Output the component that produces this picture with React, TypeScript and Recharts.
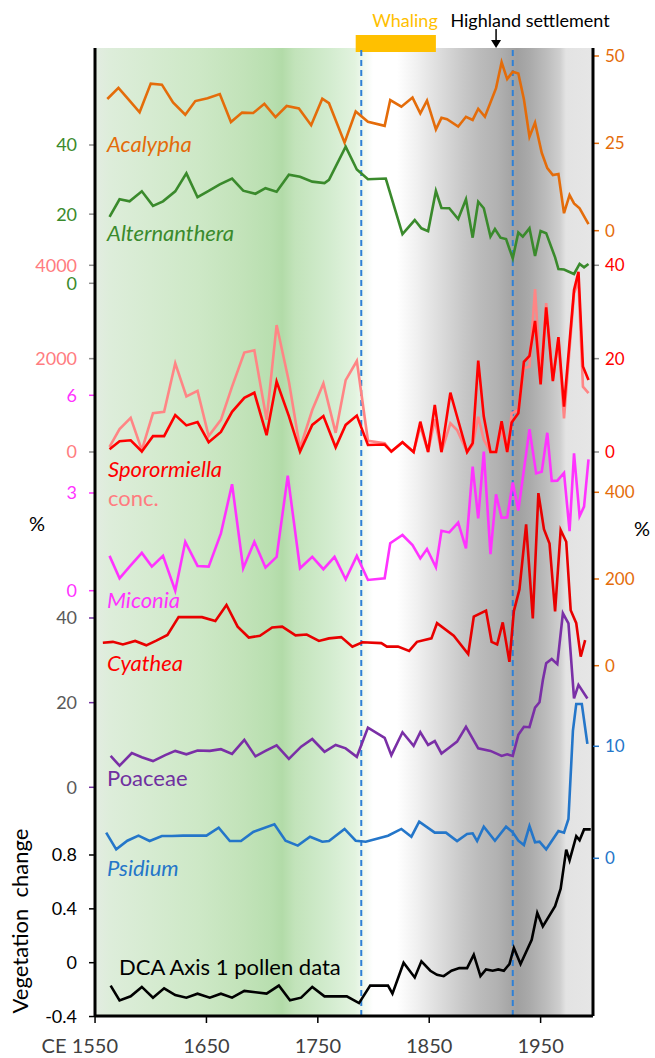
import React from 'react';
import { ComposedChart, Line, XAxis, YAxis, ReferenceArea, ReferenceLine } from 'recharts';

// ---------------- data ----------------
const yearTicks = [1550, 1650, 1750, 1850, 1950];

const acalyphaYears = [1561,1571,1580,1590,1600,1610,1620,1631,1640,1651,1662,1672,1682,1692,1702,1712,1722,1733,1744,1754,1760,1774,1784,1795,1810,1815,1825,1835,1842,1848,1856,1861,1866,1876,1883,1889,1894,1900,1910,1915,1920,1925,1930,1935,1940,1945,1951,1956,1961,1966,1971,1976,1980,1985,1993];
const acalyphaValues = [37.7,40.9,37.6,33.9,42.1,41.8,36.7,33.2,37.1,37.9,39.1,31.1,33.8,33.7,36.3,32.5,35.7,35.0,30.2,37.8,36.5,25.2,34.1,31.2,30.0,37.4,35.5,38.1,33.6,37.2,29.0,32.3,31.9,29.8,32.6,31.7,34.9,32.6,40.8,48.2,43.4,45.5,45.0,37.6,26.9,30.9,22.3,17.9,15.9,16.2,5.0,10.2,7.8,6.4,1.9];

const alternantheraYears = [1563,1572,1581,1592,1602,1611,1622,1632,1642,1652,1662,1673,1683,1694,1703,1713,1724,1734,1745,1756,1760,1775,1785,1795,1811,1826,1837,1843,1849,1856,1861,1868,1876,1883,1889,1894,1899,1905,1909,1914,1919,1925,1930,1934,1940,1945,1950,1955,1963,1966,1971,1980,1985,1989,1993];
const alternantheraValues = [19.2,24.3,23.7,26.6,22.4,23.7,26.6,31.8,24.9,26.7,28.6,30.3,26.8,25.9,27.5,26.5,31.4,30.8,29.4,29.0,29.9,39.5,32.9,30.1,30.3,14.2,18.3,15.9,15.1,26.7,21.8,21.7,18.6,24.3,13.2,23.6,21.7,13.5,15.7,13.2,12.8,7.2,14.7,13.5,15.9,7.9,15.1,14.5,7.5,4.1,4.0,2.7,5.6,4.6,5.6];

const sporYears = [1563,1572,1582,1592,1602,1612,1622,1632,1642,1652,1663,1673,1684,1693,1704,1713,1724,1734,1745,1755,1766,1775,1785,1795,1810,1816,1826,1836,1842,1849,1855,1861,1869,1875,1884,1889,1894,1899,1905,1910,1915,1920,1924,1930,1935,1940,1945,1950,1955,1961,1966,1971,1980,1984,1988,1993];
const sporPercentValues = [0.6,2.3,2.5,0.1,3.4,3.4,7.9,5.7,6.4,2.1,4.3,8.6,11.6,12.7,3.6,15.1,7.7,0.1,5.8,7.7,1.0,5.8,7.8,1.5,1.6,0.1,2.1,0,6.5,0,10.1,0,12.7,7.6,0,1.9,19.6,7.6,0,0,6.6,0,6.3,8.3,19.3,20.6,28.1,14.5,31.0,15.2,24.6,9.7,34.7,38.6,18.3,15.4];
const sporConcValues = [110,490,730,40,830,860,1900,1190,1310,340,690,1400,2130,2180,690,2720,1510,80,900,1470,410,1540,1950,240,190,10,210,0,550,0,700,0,615,470,0,150,756,260,0,0,500,0,830,900,1790,1830,3490,1540,3190,1540,2400,720,3400,3650,1400,1260];

const miconiaYears = [1563,1572,1581,1592,1601,1611,1622,1631,1642,1652,1663,1673,1683,1693,1703,1713,1723,1734,1745,1755,1765,1775,1785,1795,1810,1815,1826,1835,1842,1848,1856,1861,1868,1876,1883,1889,1894,1899,1905,1910,1915,1920,1925,1930,1940,1946,1951,1956,1960,1965,1971,1976,1980,1985,1989,1993];
const miconiaValues = [1.07,0.38,0.74,1.16,0.74,1.07,0.0,1.50,0.76,0.74,1.76,3.27,0.69,1.50,0.71,1.04,3.53,0.69,1.04,0.66,1.04,0.35,1.07,0.33,0.38,1.46,1.71,1.40,0.99,1.28,0.72,1.84,1.79,2.09,1.30,3.81,2.22,4.27,1.12,2.96,2.24,2.25,3.32,2.46,4.96,3.60,3.65,4.85,3.37,3.38,3.62,1.83,4.22,2.29,2.58,4.03];

const cyatheaYears = [1557,1566,1575,1586,1596,1605,1615,1625,1646,1658,1668,1678,1688,1698,1709,1718,1730,1740,1751,1760,1771,1781,1790,1807,1812,1822,1832,1839,1852,1857,1872,1885,1890,1901,1906,1911,1916,1922,1926,1931,1937,1943,1948,1953,1958,1963,1968,1973,1977,1982,1986,1990];
const cyatheaValues = [53,55,49,57,47,58,71,112,112,103,140,90,65,69,88,90,70,72,57,63,66,44,54,52,44,44,34,55,63,98,69,27,113,127,55,49,100,9,126,176,326,109,398,315,282,125,313,286,128,98,21,59];

const poaceaeYears = [1564,1572,1583,1592,1602,1613,1622,1632,1642,1653,1663,1673,1684,1694,1703,1713,1724,1735,1745,1756,1766,1775,1785,1795,1810,1816,1826,1836,1842,1849,1855,1861,1869,1875,1883,1894,1905,1910,1915,1920,1925,1930,1935,1940,1945,1949,1952,1955,1960,1965,1970,1975,1980,1984,1992];
const poaceaeValues = [7.4,5.1,8.1,7.1,6.2,7.6,8.6,7.8,8.7,8.6,9.0,7.9,11.2,7.3,8.6,9.9,6.7,9.6,11.4,8.4,10.0,9.2,7.2,14.1,11.7,7.6,13.0,9.8,13.0,10.0,10.9,8.0,9.6,10.8,14.3,9.2,8.6,8.0,7.4,7.8,7.4,12.4,14.3,14.2,18.8,20.1,25.3,29.3,30.3,29.1,41.1,38.7,21.0,24.2,21.0];

const psidiumYears = [1560,1569,1579,1589,1599,1610,1619,1629,1640,1650,1661,1671,1681,1692,1711,1721,1732,1743,1754,1760,1774,1784,1793,1813,1825,1834,1841,1855,1865,1875,1884,1889,1893,1899,1909,1919,1925,1930,1935,1940,1945,1949,1955,1966,1971,1975,1979,1982,1987,1992];
const psidiumValues = [2.29,0.80,1.57,2.02,1.54,1.99,1.99,2.02,2.02,2.02,2.73,1.54,1.54,2.35,3.04,1.57,1.13,1.93,1.48,1.54,2.62,1.57,1.48,2.02,2.62,1.93,3.27,2.29,2.29,1.54,2.17,2.23,1.54,2.82,1.57,2.82,2.32,1.57,1.19,2.88,1.43,1.48,0.80,2.44,2.29,3.51,11.37,13.78,13.78,10.21];

const dcaYears = [1564,1572,1582,1592,1602,1612,1622,1632,1642,1653,1663,1673,1684,1694,1704,1715,1725,1735,1745,1756,1776,1787,1797,1813,1817,1827,1837,1843,1851,1857,1863,1870,1877,1884,1890,1896,1901,1907,1912,1917,1922,1926,1932,1942,1947,1952,1963,1968,1973,1976,1982,1985,1989,1995];
const dcaValues = [-0.17,-0.28,-0.25,-0.18,-0.26,-0.19,-0.24,-0.26,-0.23,-0.26,-0.23,-0.26,-0.21,-0.22,-0.23,-0.17,-0.28,-0.26,-0.18,-0.25,-0.25,-0.30,-0.17,-0.17,-0.23,0.00,-0.11,0.01,-0.06,-0.09,-0.10,-0.06,-0.04,-0.04,0.06,-0.10,-0.05,-0.06,-0.05,-0.06,-0.01,0.11,-0.01,0.17,0.37,0.27,0.42,0.55,0.84,0.76,0.94,0.91,0.99,0.99];

const altTicks = [0, 20, 40];
const concTicks = [0, 2000, 4000];
const miconiaTicks = [0, 3, 6];
const poaceaeTicks = [0, 20, 40];
const dcaTicks = [-0.4, 0, 0.4, 0.8];
const acalyphaTicks = [0, 25, 50];
const percentTicks = [0, 20, 40];
const cyatheaTicks = [0, 200, 400];
const psidiumTicks = [0, 10];

const whalingStart = 1784;
const whalingEnd = 1856;
const eventLines = [1789, 1925];
const settlementYear = 1910;

// ---------------- layout ----------------
const W = 655;
const H = 1058;
const PLOT = { left: 95, right: 593, top: 48, bottom: 1016 };
const X_DOMAIN: [number, number] = [1550, 1997];
const FONT = 'Lato, "Open Sans", sans-serif';
const AXIS_W = 0.01; // axes must have a positive size to be drawn

// axis calibration: two tick values and the pixel rows where they sit
function domainFrom(vA: number, yA: number, vB: number, yB: number): [number, number] {
  const s = (yA - yB) / (vB - vA);
  return [vA - (PLOT.bottom - yA) / s, vA + (yA - PLOT.top) / s];
}
const xOf = (year: number) =>
  PLOT.left + ((year - X_DOMAIN[0]) / (X_DOMAIN[1] - X_DOMAIN[0])) * (PLOT.right - PLOT.left);

const zip = (xs: number[], ys: number[]) => xs.map((year, i) => ({ year, v: ys[i] }));

const C = {
  orange: '#E46C0A',
  green: '#3A8A2C',
  salmon: '#FF7C80',
  red: '#FF0000',
  magenta: '#FF33FF',
  cyathea: '#E80000',
  purple: '#7030A0',
  blue: '#2476C9',
  gray: '#595959',
  tickGray: '#8C8C8C',
};

const axes = [
  { id: 'a1', side: 'left', domain: domainFrom(0, 283.3, 40, 145), ticks: altTicks, color: C.green, tickColor: C.tickGray },
  { id: 'a2', side: 'left', domain: domainFrom(0, 452, 4000, 265.3), ticks: concTicks, color: C.salmon, tickColor: C.tickGray },
  { id: 'a3', side: 'left', domain: domainFrom(0, 590.7, 6, 395.3), ticks: miconiaTicks, color: C.magenta, tickColor: C.magenta },
  { id: 'a4', side: 'left', domain: domainFrom(0, 787.3, 40, 618), ticks: poaceaeTicks, color: C.gray, tickColor: C.purple },
  { id: 'a5', side: 'left', domain: domainFrom(0, 962.7, 0.8, 855), ticks: dcaTicks, color: '#000', tickColor: '#000', line: true },
  { id: 'b1', side: 'right', domain: domainFrom(0, 230.7, 50, 56), ticks: acalyphaTicks, color: C.orange, tickColor: C.orange },
  { id: 'b2', side: 'right', domain: domainFrom(0, 452, 40, 265.3), ticks: percentTicks, color: C.red, tickColor: C.tickGray },
  { id: 'b3', side: 'right', domain: domainFrom(0, 665.7, 400, 492.3), ticks: cyatheaTicks, color: C.orange, tickColor: C.orange },
  { id: 'b4', side: 'right', domain: domainFrom(0, 858.3, 10, 746.3), ticks: psidiumTicks, color: C.blue, tickColor: C.blue, line: true },
];

const series = [
  { axis: 'b1', data: zip(acalyphaYears, acalyphaValues), color: C.orange },
  { axis: 'a1', data: zip(alternantheraYears, alternantheraValues), color: C.green },
  { axis: 'a2', data: zip(sporYears, sporConcValues), color: '#FF8585' },
  { axis: 'b2', data: zip(sporYears, sporPercentValues), color: C.red },
  { axis: 'a3', data: zip(miconiaYears, miconiaValues), color: C.magenta },
  { axis: 'b3', data: zip(cyatheaYears, cyatheaValues), color: C.cyathea },
  { axis: 'a4', data: zip(poaceaeYears, poaceaeValues), color: '#7A2FA6' },
  { axis: 'b4', data: zip(psidiumYears, psidiumValues), color: C.blue },
  { axis: 'a5', data: zip(dcaYears, dcaValues), color: '#000' },
];

const seriesLabels = [
  { text: 'Acalypha', x: 107, y: 152, color: C.orange, italic: true },
  { text: 'Alternanthera', x: 107, y: 241, color: C.green, italic: true },
  { text: 'Sporormiella', x: 108, y: 477, color: C.red, italic: true },
  { text: 'conc.', x: 108, y: 506, color: C.salmon, italic: false },
  { text: 'Miconia', x: 107, y: 608, color: C.magenta, italic: true },
  { text: 'Cyathea', x: 107, y: 671, color: C.red, italic: true },
  { text: 'Poaceae', x: 107, y: 786, color: C.purple, italic: false },
  { text: 'Psidium', x: 107, y: 876, color: C.blue, italic: true },
  { text: 'DCA Axis 1 pollen data', x: 119, y: 975, color: '#000', italic: false },
];

// background bands (pixel column -> colour)
const bgStops: [number, string][] = [
  [95, '#E3ECE2'], [110, '#DDEDDA'], [150, '#D6EBD1'], [200, '#CDE8C6'], [240, '#C3E3BA'],
  [270, '#B9DFB0'], [282, '#B2DBA8'], [295, '#C2E3BA'], [330, '#D3ECCF'], [355, '#E2F3DF'],
  [373, '#FFFFFF'], [397, '#FFFFFF'], [417, '#F0F0F0'], [440, '#DCDCDC'], [463, '#C8C8C8'],
  [480, '#BBBBBB'], [497, '#B2B2B2'], [510, '#A6A6A6'], [517, '#A0A0A0'], [530, '#AAAAAA'],
  [547, '#BDBDBD'], [560, '#CFCFCF'], [566, '#E3E3E3'], [593, '#E6E6E6'],
];

const XTick = (props: any) => {
  const { x, y, payload } = props;
  const first = payload.value === yearTicks[0];
  return (
    <text
      x={first ? x + 23 : x}
      y={y}
      dy="0.71em"
      textAnchor={first ? 'end' : 'middle'}
      fill="#404040"
      fontSize={20}
      fontFamily={FONT}
    >
      {first ? `CE ${payload.value}` : payload.value}
    </text>
  );
};

export default function App() {
  return (
    <div style={{ position: 'absolute', left: 0, top: 0, width: W, height: H, background: '#fff' }}>
      <svg width={0} height={0} style={{ position: 'absolute' }}>
        <defs>
          <linearGradient id="bgGrad" x1="0" y1="0" x2="1" y2="0">
            {bgStops.map(([px, col], i) => (
              <stop key={i} offset={(px - PLOT.left) / (PLOT.right - PLOT.left)} stopColor={col} />
            ))}
          </linearGradient>
        </defs>
      </svg>
      <ComposedChart
        width={W}
        height={H}
        margin={{ top: PLOT.top, right: W - PLOT.right, bottom: H - PLOT.bottom, left: PLOT.left }}
      >
        <XAxis
          dataKey="year"
          type="number"
          domain={X_DOMAIN}
          ticks={yearTicks}
          allowDataOverflow
          interval={0}
          height={AXIS_W}
          tickSize={7}
          tickMargin={16}
          axisLine={{ stroke: '#000', strokeWidth: 3 }}
          tickLine={{ stroke: '#000', strokeWidth: 1.5 }}
          tick={(p: any) => <XTick {...p} />}
        />
        {axes.map((a) => (
          <YAxis
            key={a.id}
            yAxisId={a.id}
            orientation={a.side as 'left' | 'right'}
            type="number"
            width={AXIS_W}
            domain={a.domain}
            ticks={a.ticks}
            allowDataOverflow
            interval={0}
            tickSize={6}
            tickMargin={a.side === 'left' ? 12 : 6}
            axisLine={a.line ? { stroke: '#000', strokeWidth: 3 } : false}
            tickLine={{ stroke: a.tickColor, strokeWidth: 1.5 }}
            tick={{ fill: a.color, fontSize: a.side === 'left' ? 18 : 17, fontFamily: FONT }}
          />
        ))}
        <YAxis
          yAxisId="zframe"
          orientation="right"
          hide
          width={AXIS_W}
          type="number"
          domain={[PLOT.top, PLOT.bottom]}
          reversed
          allowDataOverflow
        />
        <ReferenceArea
          yAxisId="zframe"
          x1={X_DOMAIN[0]}
          x2={X_DOMAIN[1]}
          fill="url(#bgGrad)"
          fillOpacity={1}
          stroke="none"
          ifOverflow="hidden"
        />
        <ReferenceArea
          yAxisId="zframe"
          x1={whalingStart}
          x2={whalingEnd}
          y1={35}
          y2={52}
          fill="#FFC000"
          fillOpacity={1}
          stroke="none"
          ifOverflow="visible"
        />
        {eventLines.map((yr) => (
          <ReferenceLine
            key={yr}
            yAxisId="zframe"
            x={yr}
            stroke="#2F80D5"
            strokeWidth={2}
            strokeDasharray="6 4"
          />
        ))}
        {series.map((s) => (
          <Line
            key={s.axis}
            yAxisId={s.axis}
            data={s.data}
            dataKey="v"
            type="linear"
            stroke={s.color}
            strokeWidth={2.6}
            dot={false}
            activeDot={false}
            isAnimationActive={false}
          />
        ))}
      </ComposedChart>
      <svg
        width={W}
        height={H}
        style={{ position: 'absolute', left: 0, top: 0, pointerEvents: 'none' }}
        fontFamily={FONT}
      >
        <text x={405} y={27} textAnchor="middle" fill="#FFC000" fontSize={18}>Whaling</text>
        <text x={530} y={27} textAnchor="middle" fill="#000" fontSize={18}>Highland settlement</text>
        <line x1={xOf(settlementYear)} y1={29} x2={xOf(settlementYear)} y2={42} stroke="#000" strokeWidth={1.5} />
        <polygon
          points={`${xOf(settlementYear) - 5},40 ${xOf(settlementYear) + 5},40 ${xOf(settlementYear)},48`}
          fill="#000"
        />
        {seriesLabels.map((l) => (
          <text
            key={l.text}
            x={l.x}
            y={l.y}
            fill={l.color}
            fontSize={22}
            fontStyle={l.italic ? 'italic' : 'normal'}
          >
            {l.text}
          </text>
        ))}
        <text x={37} y={531} textAnchor="middle" fontSize={20} fill="#000">%</text>
        <text x={642} y={536} textAnchor="middle" fontSize={20} fill="#000">%</text>
        <text
          x={28}
          y={921}
          textAnchor="middle"
          fontSize={22}
          fill="#000"
          style={{ whiteSpace: 'pre' }}
          transform="rotate(-90 28 921)"
        >
          {'Vegetation  change'}
        </text>
      </svg>
    </div>
  );
}
